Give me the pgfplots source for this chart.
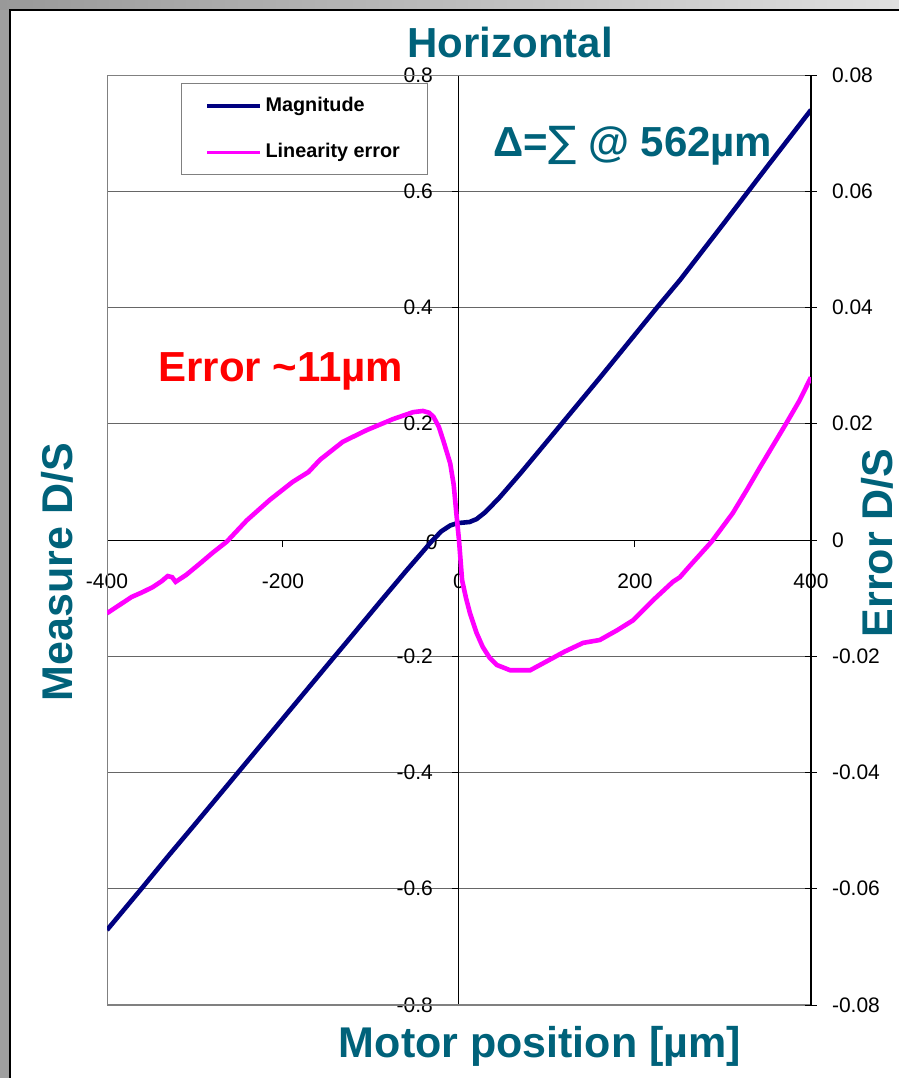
\documentclass[border=0pt]{standalone}
\usepackage{pgfplots}
\pgfplotsset{compat=1.18}
\usepackage{fontspec}
\setmainfont{Liberation Sans}
\newfontfamily\dejavu{DejaVu Sans}
\definecolor{teal2}{RGB}{0,98,122}
\definecolor{navyc}{RGB}{0,0,128}
\definecolor{magc}{RGB}{255,0,255}
\begin{document}
\begin{tikzpicture}
\useasboundingbox (0,0) rectangle (449.5pt,539pt);
\begin{scope}[shift={(0,539pt)},x=0.5pt,y=-0.5pt]
  \fill[gray!75] (0,0) rectangle (899,1078);
  \shade[left color=gray!80,right color=gray!25] (0,0) rectangle (899,10);
  \fill[white] (10,10) rectangle (910,1090);
  \draw[black,line width=1.2pt] (10,1090) -- (10,10) -- (910,10);
\end{scope}
\begin{axis}[
  at={(53.5pt,36.5pt)}, anchor=south west,
  scale only axis, width=352pt, height=465pt,
  xmin=-400, xmax=400, ymin=-0.8, ymax=0.8,
  axis lines=middle, axis line style={-,black,line width=0.5pt},
  xtick={-400,-200,0,200,400}, xticklabels={-400,-200,0,200,400},
  ytick={-0.8,-0.6,-0.4,-0.2,0,0.2,0.4,0.6,0.8},
  yticklabels={-0.8,-0.6,-0.4,-0.2,0,0.2,0.4,0.6,0.8},
  ymajorgrids, grid style={gray!80!black,line width=0.5pt},
  tick style={black,line width=0.5pt}, tick align=outside, major tick length=3.5pt,
  ticklabel style={font=\fontsize{10.5}{12}\selectfont},
  xticklabel style={anchor=center, yshift=-17pt},
  yticklabel style={anchor=east, xshift=-6pt},
  legend style={at={(axis description cs:0.105,0.9917)}, anchor=north west,
    draw=gray, line width=0.5pt, font=\fontsize{9.9}{11}\selectfont\bfseries,
    inner xsep=12pt, inner ysep=5pt, row sep=10.5pt},
  legend cell align=left,
  legend image code/.code={\draw[#1,line width=1.6pt] (1pt,0pt) -- (27.5pt,0pt);},
]
\draw[gray,line width=1pt] (rel axis cs:0,0) rectangle (rel axis cs:1,1);
\node[font=\fontsize{10.5}{12}\selectfont,anchor=east,inner sep=0pt] at ([xshift=-10.5pt,yshift=-1pt]axis cs:0,0) {0};
\node[font=\fontsize{10.5}{12}\selectfont,anchor=center,inner sep=0pt] at ([yshift=-20.5pt]axis cs:0,0) {0};
\addplot[navyc, line width=2.3pt] coordinates {
(-400,-0.671) (-362,-0.602) (-330,-0.543) (-300,-0.489) (-250,-0.398) (-200,-0.307)
(-150,-0.216) (-124,-0.169) (-90,-0.107) (-60,-0.053) (-40,-0.018) (-31,-0.002)
(-20,0.015) (-10,0.025) (-2,0.029) (5,0.030) (12,0.031) (20,0.036) (30,0.048)
(46,0.073) (70,0.115) (103,0.175) (160,0.279) (225,0.400) (251,0.447) (300,0.543)
(350,0.642) (400,0.740)
};
\addlegendentry{Magnitude}
\addlegendimage{magc}
\addlegendentry{Linearity error}
\end{axis}
\begin{axis}[
  at={(53.5pt,36.5pt)}, anchor=south west,
  scale only axis, width=352pt, height=465pt,
  xmin=-400, xmax=400, ymin=-0.08, ymax=0.08,
  scaled y ticks=false,
  axis x line=none, axis y line*=right, axis line style={-,black,line width=0.6pt},
  ytick={-0.08,-0.06,-0.04,-0.02,0,0.02,0.04,0.06,0.08},
  yticklabels={-0.08,-0.06,-0.04,-0.02,0,0.02,0.04,0.06,0.08},
  tick style={black,line width=0.5pt}, tick align=center, major tick length=6pt,
  ticklabel style={font=\fontsize{10.5}{12}\selectfont},
  yticklabel style={anchor=west, xshift=4pt},
]
\addplot[magc, line width=2.3pt] coordinates {
(-400,-0.0126) (-386,-0.0112) (-372,-0.0098) (-360,-0.0090) (-348,-0.0081) (-338,-0.0071)
(-331,-0.0062) (-326,-0.0064) (-322,-0.0072) (-310,-0.0060) (-294,-0.0040) (-280,-0.0022)
(-264,-0.0003) (-241,0.0034) (-215,0.0069) (-189,0.0100) (-171,0.0117) (-158,0.0138)
(-132,0.0169) (-105,0.0189) (-75,0.0208) (-52,0.0220) (-41,0.0222) (-34,0.0219)
(-29,0.0212) (-23,0.0195) (-18,0.0172) (-14,0.0152) (-10,0.0132) (-6,0.0095)
(-3,0.0046) (0,0.0000) (3.5,-0.0069) (8,-0.0100) (12.5,-0.0126) (20,-0.0160)
(27,-0.0184) (35,-0.0203) (43,-0.0215) (58,-0.0224) (81,-0.0224) (103,-0.0206)
(120,-0.0192) (141,-0.0177) (160,-0.0172) (180,-0.0155) (198,-0.0138) (221,-0.0103)
(243,-0.0072) (251,-0.0064) (262,-0.0045) (287,-0.0003) (311,0.0046) (327,0.0086)
(342,0.0125) (357,0.0163) (372,0.0201) (387,0.0240) (400,0.0280)
};
\end{axis}
\begin{scope}[shift={(0,539pt)},x=0.5pt,y=-0.5pt]
  \node[text=teal2,font=\fontsize{21}{25}\selectfont\bfseries,anchor=base] at (510,58) {Horizontal};
  \node[text=teal2,font=\fontsize{21}{25}\selectfont\bfseries,anchor=base west,inner sep=0pt] at (493,157) {Δ={\dejavu\mdseries ∑} @ 562µm};
  \node[text=red,font=\fontsize{21}{25}\selectfont\bfseries,anchor=base west,inner sep=0pt] at (158,382) {Error \textasciitilde11µm};
  \node[text=teal2,font=\fontsize{21.5}{25}\selectfont\bfseries,rotate=90] at (57,572) {Measure D/S};
  \node[text=teal2,font=\fontsize{21.5}{25}\selectfont\bfseries,rotate=90] at (877,543) {Error D/S};
  \node[text=teal2,font=\fontsize{21.5}{25}\selectfont\bfseries,anchor=base] at (540,1058) {Motor position [µm]};
\end{scope}
\end{tikzpicture}
\end{document}
